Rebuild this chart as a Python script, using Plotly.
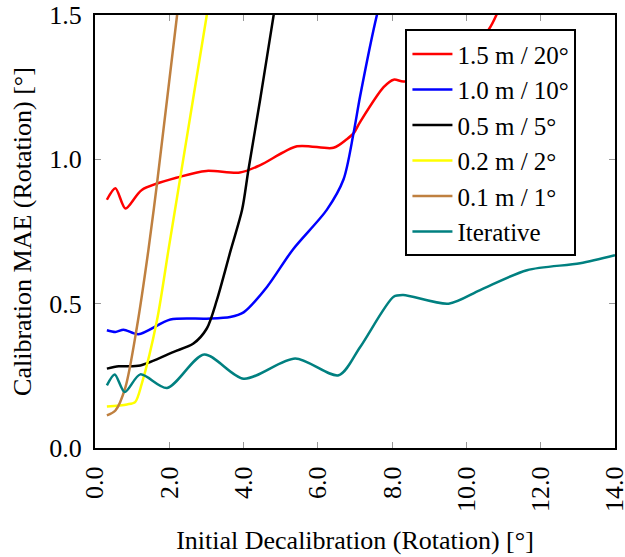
import plotly.graph_objects as go

# Data
x_red = [0.32, 0.55, 0.82, 1.26, 2.3, 3.0, 3.9, 4.45, 5.44, 6.42, 6.78, 6.96, 7.14, 7.77, 8.04, 8.3, 9.0, 9.5, 10.0, 10.6, 11.0]
y_red = [0.86, 0.90, 0.83, 0.894, 0.94, 0.96, 0.954, 0.98, 1.045, 1.04, 1.07, 1.09, 1.13, 1.25, 1.276, 1.27, 1.28, 1.32, 1.38, 1.45, 1.56]

x_blue = [0.32, 0.55, 0.77, 1.17, 2.03, 3.01, 3.64, 4.0, 4.63, 5.33, 6.24, 6.69, 6.96, 7.14, 7.59, 7.8]
y_blue = [0.408, 0.402, 0.41, 0.394, 0.445, 0.448, 0.454, 0.47, 0.558, 0.688, 0.825, 0.93, 1.09, 1.22, 1.5, 1.6]

x_black = [0.32, 0.64, 1.22, 2.12, 2.65, 3.01, 3.28, 3.66, 3.96, 4.13, 4.45, 4.81, 5.0]
y_black = [0.275, 0.283, 0.286, 0.333, 0.362, 0.414, 0.512, 0.688, 0.825, 0.963, 1.21, 1.5, 1.65]

x_yellow = [0.32, 0.86, 1.08, 1.26, 1.67, 1.98, 2.3, 3.01, 3.2]
y_yellow = [0.144, 0.151, 0.159, 0.223, 0.443, 0.688, 0.94, 1.5, 1.65]

x_brown = [0.32, 0.55, 0.82, 1.13, 1.44, 1.67, 2.21, 2.4]
y_brown = [0.113, 0.13, 0.211, 0.42, 0.688, 0.917, 1.5, 1.7]

x_teal = [0.32, 0.53, 0.8, 1.22, 1.94, 2.94, 4.0, 5.39, 6.56, 7.14, 8.04, 8.3, 9.52, 10.37, 11.63, 13.06, 14.0]
y_teal = [0.217, 0.255, 0.194, 0.255, 0.208, 0.324, 0.24, 0.31, 0.252, 0.35, 0.524, 0.53, 0.50, 0.547, 0.616, 0.64, 0.668]

series = [
    ("1.5 m / 20°", x_red, y_red, "#ff0000"),
    ("1.0 m / 10°", x_blue, y_blue, "#0000ff"),
    ("0.5 m / 5°", x_black, y_black, "#000000"),
    ("0.2 m / 2°", x_yellow, y_yellow, "#ffff00"),
    ("0.1 m / 1°", x_brown, y_brown, "#bf8040"),
    ("Iterative", x_teal, y_teal, "#008080"),
]

x_ticks = [0, 2, 4, 6, 8, 10, 12, 14]
y_ticks = [0.0, 0.5, 1.0, 1.5]

FONT = "Liberation Serif"
FS = 26

fig = go.Figure()
for name, xs, ys, col in series:
    fig.add_trace(go.Scatter(
        x=xs, y=ys, name=name, mode="lines",
        line=dict(color=col, width=2.5, shape="spline", smoothing=0.8),
    ))

axis_common = dict(
    showline=True, linecolor="black", linewidth=2, mirror="allticks",
    ticks="inside", ticklen=6, tickcolor="#999999", tickwidth=1,
    showgrid=False, zeroline=False, automargin=False,
    ticklabeloverflow="allow", ticklabelstandoff=6,
    tickfont=dict(family=FONT, size=FS, color="black"),
)

fig.update_layout(
    width=625, height=557,
    margin=dict(l=95, r=10, t=15, b=109),
    plot_bgcolor="white", paper_bgcolor="white",
    font=dict(family=FONT, size=FS, color="black"),
    xaxis=dict(range=[0, 14], tickvals=x_ticks, tickformat=".1f", tickangle=-90,
               title=dict(text="Initial Decalibration (Rotation) [°]", standoff=20,
                          font=dict(family=FONT, size=FS)),
               **axis_common),
    yaxis=dict(range=[0, 1.5], tickvals=y_ticks, tickformat=".1f",
               title=dict(text="Calibration MAE (Rotation) [°]", standoff=10,
                          font=dict(family=FONT, size=FS)),
               **axis_common),
    legend=dict(x=0.597, y=0.967, xanchor="left", yanchor="top",
                bordercolor="black", borderwidth=2, bgcolor="white",
                font=dict(family=FONT, size=25),
                itemwidth=40, entrywidth=180, entrywidthmode="pixels"),
)

fig.write_html("out.html")
